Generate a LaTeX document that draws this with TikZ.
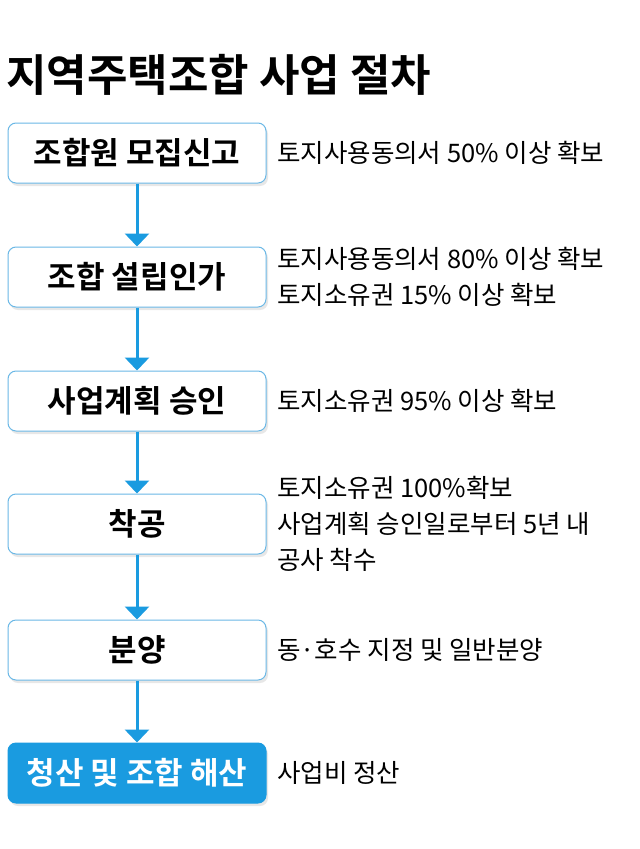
\documentclass[tikz,border=0pt]{standalone}
\usepackage{fontspec}
\newfontfamily\kr{Noto Sans CJK KR}
\newfontfamily\krb{Noto Sans CJK KR Bold}
\usetikzlibrary{arrows.meta,shadows}
\definecolor{mblue}{HTML}{1A9BE0}
\definecolor{lblue}{HTML}{6BB8E6}
\tikzset{
 stepbox/.style={draw=lblue,line width=1pt,rounded corners=8pt,fill=white,minimum width=258pt,minimum height=60pt,font=\krb\fontsize{31}{34}\selectfont,inner sep=0pt,drop shadow={shadow xshift=2pt,shadow yshift=-3pt,fill=black!18}},
 lastbox/.style={stepbox,fill=mblue,draw=mblue,text=white},
 note/.style={anchor=west,align=left,font=\kr\fontsize{25.5}{36}\selectfont,inner sep=0pt},
 conn/.style={mblue,line width=3pt,-{Triangle[width=24pt,length=13pt]}}
}
\begin{document}
\begin{tikzpicture}[x=1pt,y=1pt]
\useasboundingbox[fill=white] (0,0) rectangle (640,-849);
\node[anchor=west,font=\krb\fontsize{44}{48}\selectfont,inner sep=0pt] (title) at (6,-75) {지역주택조합 사업 절차};
\node[stepbox] (b1) at (137,-153) {조합원 모집신고};
\node[stepbox] (b2) at (137,-277) {조합 설립인가};
\node[stepbox] (b3) at (137,-401) {사업계획 승인};
\node[stepbox] (b4) at (137,-524) {착공};
\node[stepbox] (b5) at (137,-650) {분양};
\node[lastbox] (b6) at (137,-773) {청산 및 조합 해산};
\foreach \a/\b in {b1/b2,b2/b3,b3/b4,b4/b5,b5/b6}{\draw[conn] (\a.south) -- (\b.north);}
\node[note] (n1) at (277,-153) {토지사용동의서 50\% 이상 확보};
\node[note] (n2) at (277,-277) {토지사용동의서 80\% 이상 확보\\토지소유권 15\% 이상 확보};
\node[note] (n3) at (277,-401) {토지소유권 95\% 이상 확보};
\node[note] (n4) at (277,-524) {토지소유권 100\%확보\\사업계획 승인일로부터 5년 내\\공사 착수};
\node[note] (n5) at (277,-650) {동·호수 지정 및 일반분양};
\node[note] (n6) at (277,-773) {사업비 정산};
\end{tikzpicture}
\end{document}
